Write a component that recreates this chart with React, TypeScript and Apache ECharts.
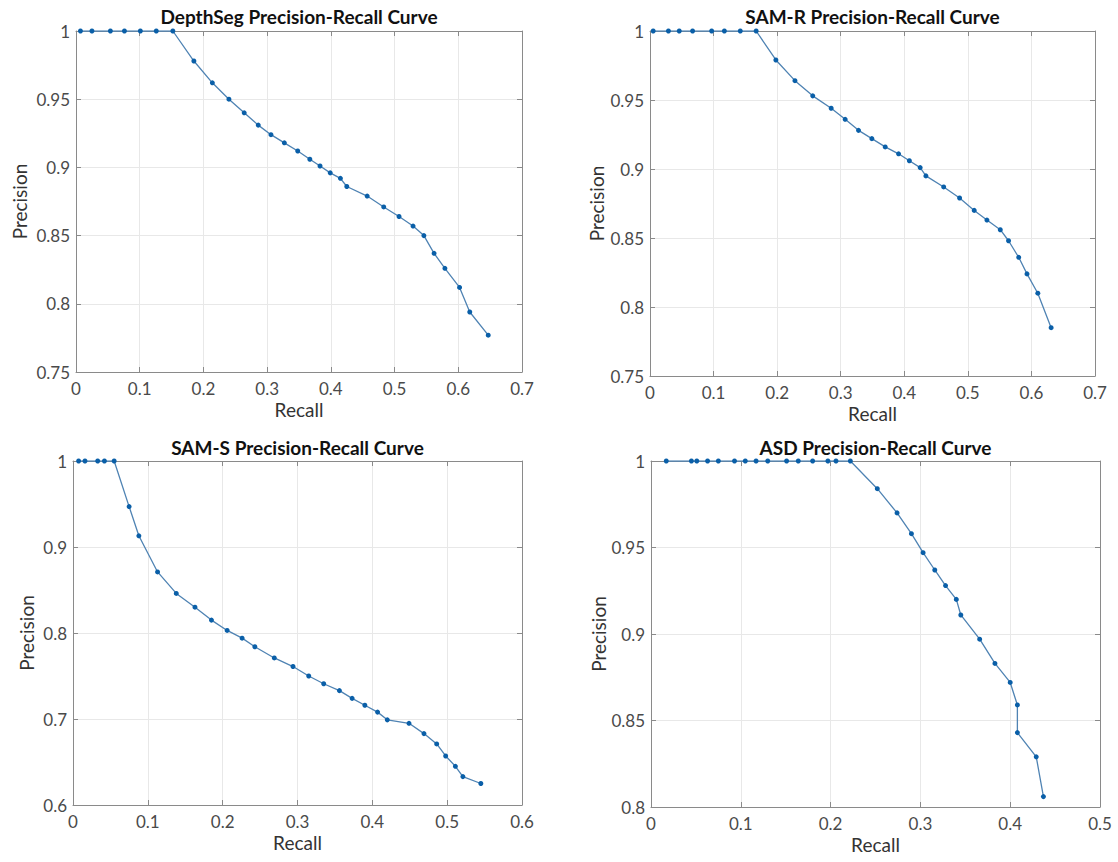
import React, { useEffect, useRef } from "react";
import * as echarts from "echarts";

// ---------- Data ----------
const depthSegRecall = [0.007, 0.025, 0.054, 0.076, 0.101, 0.126, 0.152, 0.185, 0.214, 0.240, 0.264, 0.286, 0.306, 0.327, 0.348, 0.367, 0.383, 0.399, 0.415, 0.425, 0.457, 0.483, 0.507, 0.529, 0.546, 0.562, 0.579, 0.602, 0.618, 0.647];
const depthSegPrecision = [1, 1, 1, 1, 1, 1, 1, 0.978, 0.962, 0.950, 0.940, 0.931, 0.924, 0.918, 0.912, 0.906, 0.901, 0.896, 0.892, 0.886, 0.879, 0.871, 0.864, 0.857, 0.850, 0.837, 0.826, 0.812, 0.794, 0.777];

const samRRecall = [0.005, 0.029, 0.046, 0.067, 0.097, 0.117, 0.142, 0.167, 0.198, 0.228, 0.256, 0.285, 0.307, 0.328, 0.349, 0.370, 0.391, 0.408, 0.425, 0.434, 0.462, 0.487, 0.510, 0.530, 0.551, 0.564, 0.580, 0.593, 0.610, 0.631];
const samRPrecision = [1, 1, 1, 1, 1, 1, 1, 1, 0.979, 0.964, 0.953, 0.944, 0.936, 0.928, 0.922, 0.916, 0.911, 0.906, 0.901, 0.895, 0.887, 0.879, 0.870, 0.863, 0.856, 0.848, 0.836, 0.824, 0.810, 0.785];

const samSRecall = [0.0075, 0.016, 0.033, 0.042, 0.055, 0.075, 0.088, 0.113, 0.138, 0.163, 0.185, 0.206, 0.226, 0.243, 0.269, 0.294, 0.315, 0.335, 0.356, 0.373, 0.390, 0.407, 0.420, 0.449, 0.469, 0.486, 0.498, 0.511, 0.521, 0.545];
const samSPrecision = [1, 1, 1, 1, 1, 0.947, 0.913, 0.871, 0.846, 0.830, 0.815, 0.803, 0.794, 0.784, 0.771, 0.761, 0.750, 0.741, 0.733, 0.724, 0.716, 0.708, 0.699, 0.695, 0.683, 0.671, 0.657, 0.645, 0.633, 0.625];

const asdRecall = [0.017, 0.045, 0.051, 0.063, 0.075, 0.093, 0.105, 0.117, 0.130, 0.151, 0.164, 0.180, 0.197, 0.206, 0.222, 0.252, 0.274, 0.290, 0.303, 0.316, 0.328, 0.340, 0.345, 0.366, 0.383, 0.400, 0.408, 0.408, 0.429, 0.437];
const asdPrecision = [1, 1, 1, 1, 1, 1, 1, 1, 1, 1, 1, 1, 1, 1, 1, 0.984, 0.970, 0.958, 0.947, 0.937, 0.928, 0.920, 0.911, 0.897, 0.883, 0.872, 0.859, 0.843, 0.829, 0.806];

// Tick labels
const depthSegXTicks = [0, 0.1, 0.2, 0.3, 0.4, 0.5, 0.6, 0.7];
const depthSegYTicks = [0.75, 0.8, 0.85, 0.9, 0.95, 1];
const samRXTicks = [0, 0.1, 0.2, 0.3, 0.4, 0.5, 0.6, 0.7];
const samRYTicks = [0.75, 0.8, 0.85, 0.9, 0.95, 1];
const samSXTicks = [0, 0.1, 0.2, 0.3, 0.4, 0.5, 0.6];
const samSYTicks = [0.6, 0.7, 0.8, 0.9, 1];
const asdXTicks = [0, 0.1, 0.2, 0.3, 0.4, 0.5];
const asdYTicks = [0.8, 0.85, 0.9, 0.95, 1];

const titles = [
  "DepthSeg Precision-Recall Curve",
  "SAM-R Precision-Recall Curve",
  "SAM-S Precision-Recall Curve",
  "ASD Precision-Recall Curve",
];

// ---------- Layout ----------
const panels = [
  { left: 76, top: 31, right: 522, bottom: 372, yNameGap: 47, titleDy: 15 },
  { left: 650, top: 31, right: 1095, bottom: 376, yNameGap: 44, titleDy: 15 },
  { left: 73, top: 461, right: 522, bottom: 805, yNameGap: 37, titleDy: 14 },
  { left: 651, top: 461, right: 1100, bottom: 807, yNameGap: 36, titleDy: 14 },
];

const W = 1118;
const H = 862;
const FONT = "Lato, 'Open Sans', sans-serif";
const LINE_COLOR = "#4f83b3";
const MARKER_COLOR = "#0a5fa8";
const AXIS_COLOR = "#8a8a8a";
const GRID_COLOR = "#e8e8e8";
const LABEL_COLOR = "#4a4a4a";

function zip(xs: number[], ys: number[]) {
  return xs.map((x, i) => [x, ys[i]]);
}

export default function App() {
  const ref = useRef<HTMLDivElement>(null);

  useEffect(() => {
    document.body.style.margin = "0";
    if (!ref.current) return;
    const chart = echarts.init(ref.current, undefined, { renderer: "svg" });

    const datasets = [
      { data: zip(depthSegRecall, depthSegPrecision), xt: depthSegXTicks, yt: depthSegYTicks },
      { data: zip(samRRecall, samRPrecision), xt: samRXTicks, yt: samRYTicks },
      { data: zip(samSRecall, samSPrecision), xt: samSXTicks, yt: samSYTicks },
      { data: zip(asdRecall, asdPrecision), xt: asdXTicks, yt: asdYTicks },
    ];

    const grid: any[] = [];
    const xAxis: any[] = [];
    const yAxis: any[] = [];
    const series: any[] = [];
    const graphic: any[] = [];

    panels.forEach((p, i) => {
      const d = datasets[i];
      grid.push({
        left: p.left,
        top: p.top,
        width: p.right - p.left,
        height: p.bottom - p.top,
        containLabel: false,
      });
      const xMin = d.xt[0];
      const xMax = d.xt[d.xt.length - 1];
      const xInt = +(d.xt[1] - d.xt[0]).toFixed(4);
      const yMin = d.yt[0];
      const yMax = d.yt[d.yt.length - 1];
      const yInt = +(d.yt[1] - d.yt[0]).toFixed(4);

      const baseAxisLine = { show: true, lineStyle: { color: AXIS_COLOR, width: 1 } };
      const tick = { show: true, inside: true, length: 5, lineStyle: { color: AXIS_COLOR } };

      xAxis.push({
        type: "value",
        gridIndex: i,
        min: xMin,
        max: xMax,
        interval: xInt,
        position: "bottom",
        axisLine: { ...baseAxisLine, onZero: false },
        axisTick: tick,
        axisLabel: { color: LABEL_COLOR, fontSize: 17, fontFamily: FONT, margin: 8 },
        splitLine: { show: true, lineStyle: { color: GRID_COLOR, width: 1 } },
        name: "Recall",
        nameLocation: "middle",
        nameGap: 28,
        nameTextStyle: { color: "#333", fontSize: 19, fontFamily: FONT },
      });
      xAxis.push({
        type: "value",
        gridIndex: i,
        min: xMin,
        max: xMax,
        interval: xInt,
        position: "top",
        axisLine: { ...baseAxisLine, onZero: false },
        axisTick: tick,
        axisLabel: { show: false },
        splitLine: { show: false },
      });
      yAxis.push({
        type: "value",
        gridIndex: i,
        min: yMin,
        max: yMax,
        interval: yInt,
        position: "left",
        axisLine: { ...baseAxisLine, onZero: false },
        axisTick: tick,
        axisLabel: { color: LABEL_COLOR, fontSize: 17, fontFamily: FONT, margin: 6 },
        splitLine: { show: true, lineStyle: { color: GRID_COLOR, width: 1 } },
        name: "Precision",
        nameLocation: "middle",
        nameGap: p.yNameGap,
        nameRotate: 90,
        nameTextStyle: { color: "#333", fontSize: 19, fontFamily: FONT },
      });
      yAxis.push({
        type: "value",
        gridIndex: i,
        min: yMin,
        max: yMax,
        interval: yInt,
        position: "right",
        axisLine: { ...baseAxisLine, onZero: false },
        axisTick: tick,
        axisLabel: { show: false },
        splitLine: { show: false },
      });

      series.push({
        type: "line",
        xAxisIndex: i * 2,
        yAxisIndex: i * 2,
        data: d.data,
        symbol: "circle",
        symbolSize: 5,
        showSymbol: true,
        lineStyle: { color: LINE_COLOR, width: 1.3 },
        itemStyle: { color: MARKER_COLOR },
        z: 5,
      });

      graphic.push({
        type: "text",
        x: (p.left + p.right) / 2,
        y: p.top - p.titleDy,
        style: {
          text: titles[i],
          fill: "#111",
          fontSize: 19,
          fontWeight: "bold",
          fontFamily: FONT,
          textAlign: "center",
          textVerticalAlign: "middle",
        },
      });
    });

    chart.setOption({
      animation: false,
      backgroundColor: "#ffffff",
      grid,
      xAxis,
      yAxis,
      series,
      graphic,
    });

    return () => chart.dispose();
  }, []);

  return <div ref={ref} style={{ width: W, height: H }} />;
}
